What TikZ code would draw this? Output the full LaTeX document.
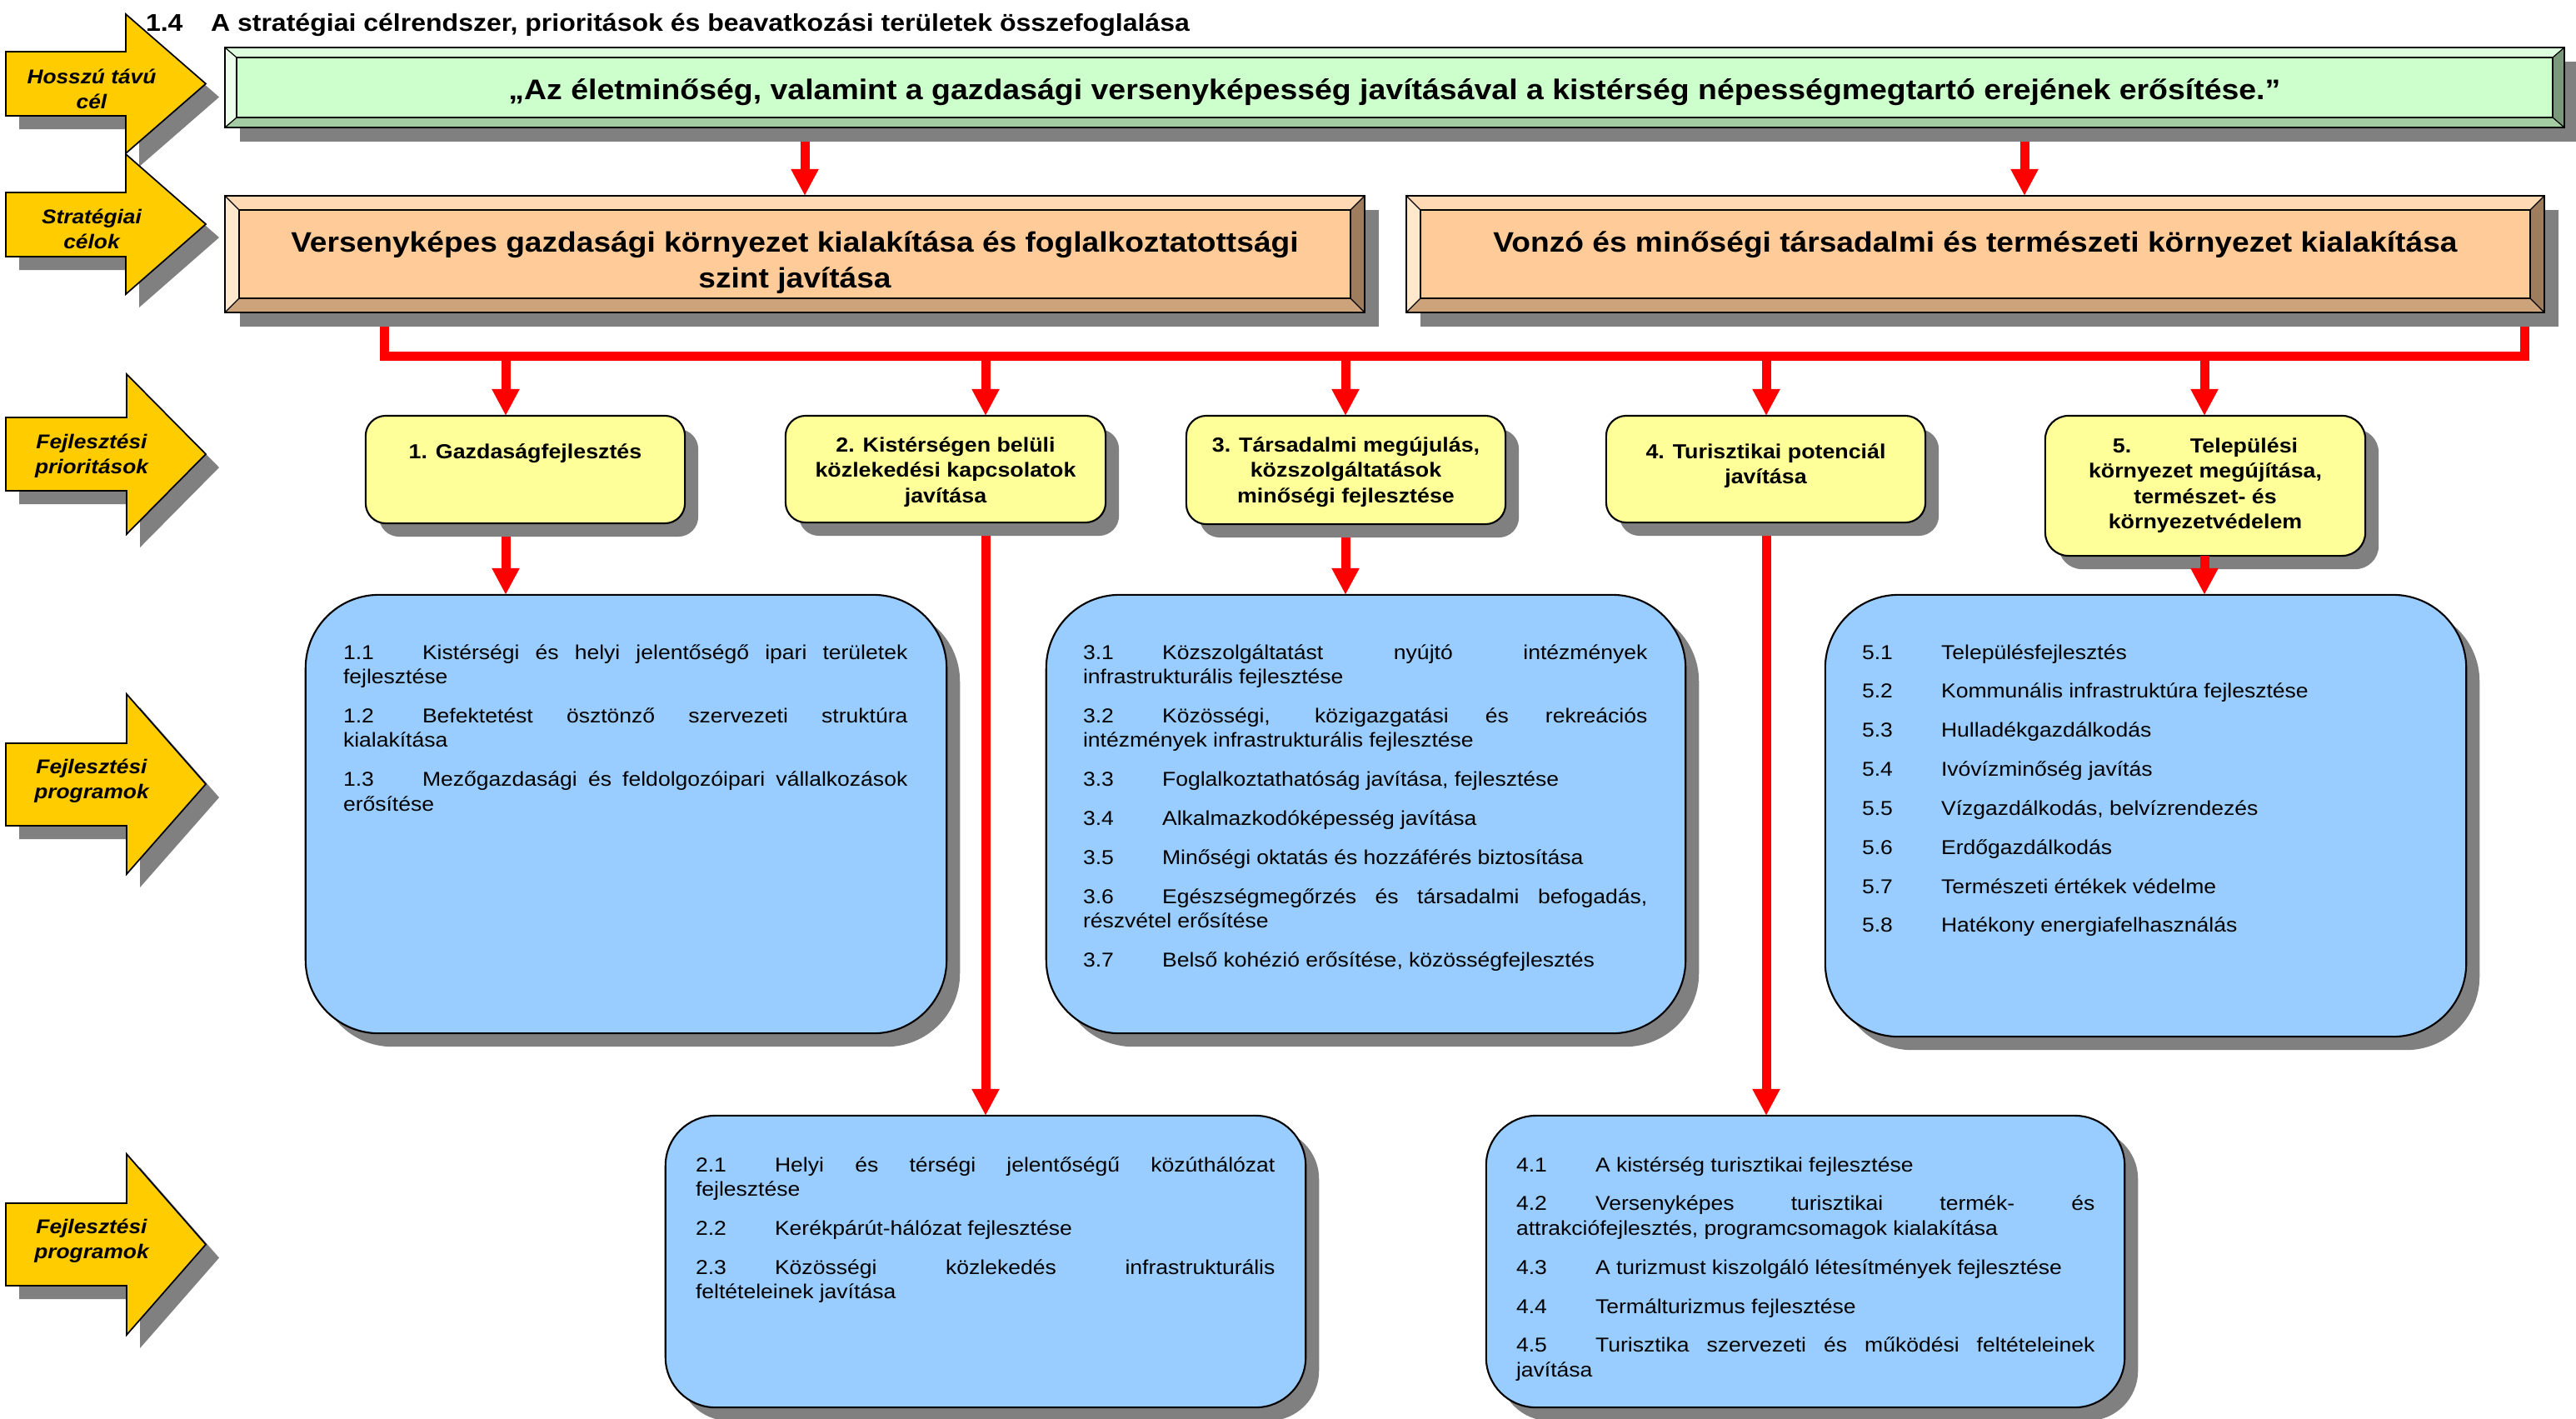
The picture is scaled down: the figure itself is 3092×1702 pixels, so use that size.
\documentclass[tikz,border=0pt]{standalone}
\usepackage{fontspec}
\setmainfont{Liberation Sans}[FakeStretch=1.1]
\usetikzlibrary{arrows.meta,shadows}

\definecolor{shadowc}{HTML}{808080}
\definecolor{yarrowc}{HTML}{FFCC00}
\definecolor{gmain}{HTML}{CCFFCC}
\definecolor{gtop}{HTML}{DDFFDD}
\definecolor{glft}{HTML}{EBFFEB}
\definecolor{gbot}{HTML}{A3CCA3}
\definecolor{grgt}{HTML}{7A997A}
\definecolor{omain}{HTML}{FFCC99}
\definecolor{otop}{HTML}{FFD9B3}
\definecolor{olft}{HTML}{FFE8CC}
\definecolor{obot}{HTML}{CCA37A}
\definecolor{orgt}{HTML}{9E7C5E}
\definecolor{prioc}{HTML}{FFFF99}
\definecolor{progc}{HTML}{99CCFF}
\definecolor{redc}{HTML}{FF0000}

\pgfdeclarelayer{paper}
\pgfdeclarelayer{conn}
\pgfdeclarelayer{shad}
\pgfsetlayers{paper,conn,shad,main}

\newcommand\mystrut{\rule{0pt}{0.3cm}}
\newcommand\mystrutB{\rule{0pt}{0.4cm}}
\newcommand\itm[1]{\makebox[0.95cm][l]{#1}}
\newcommand\fTitle{\fontsize{8.28pt}{9.6pt}\selectfont\bfseries}
\newcommand\fGoal{\fontsize{9.68pt}{11pt}\selectfont\bfseries}
\newcommand\fStrat{\fontsize{9.6pt}{0.43cm}\selectfont\bfseries}
\newcommand\fPrio{\fontsize{6.93pt}{0.305cm}\selectfont\bfseries}
\newcommand\fArrow{\fontsize{6.8pt}{0.30cm}\selectfont\bfseries\itshape}
\newcommand\fProgSet{\setlength\parindent{0pt}\spaceskip=0.3em plus 3em minus 0.05em\relax\tolerance=10000\hyphenpenalty=10000\exhyphenpenalty=10000\relax}
\newcommand\fProg{\fontsize{6.86pt}{0.295cm}\selectfont\setlength\parskip{0.173cm}\fProgSet}

\newcommand\yarrowshape[5]{(7,#1) -- (#5,#1) -- (#5,#3) -- (247,{(#3+#4)/2}) -- (#5,#4) -- (#5,#2) -- (7,#2) -- cycle}

% x0,y0,x1,y1,dx,dy,prefix
\newcommand\bevel[7]{%
 \fill[#7top] (#1,#2) -- (#3,#2) -- ({#3-#5},{#2+#6}) -- ({#1+#5},{#2+#6}) -- cycle;
 \fill[#7bot] (#1,#4) -- (#3,#4) -- ({#3-#5},{#4-#6}) -- ({#1+#5},{#4-#6}) -- cycle;
 \fill[#7lft] (#1,#2) -- ({#1+#5},{#2+#6}) -- ({#1+#5},{#4-#6}) -- (#1,#4) -- cycle;
 \fill[#7rgt] (#3,#2) -- ({#3-#5},{#2+#6}) -- ({#3-#5},{#4-#6}) -- (#3,#4) -- cycle;
 \draw[thinedge] (#1,#2) -- ({#1+#5},{#2+#6}) (#3,#2) -- ({#3-#5},{#2+#6})
   (#1,#4) -- ({#1+#5},{#4-#6}) (#3,#4) -- ({#3-#5},{#4-#6});
 \draw[edge] ({#1+#5},{#2+#6}) rectangle ({#3-#5},{#4-#6});
 \draw[edge] (#1,#2) rectangle (#3,#4);
}

\tikzset{
 edge/.style={draw=black,line width=0.6pt},
 thinedge/.style={draw=black,line width=0.35pt},
 redline/.style={draw=redc,line width=0.11cm,line join=miter},
 redarr/.style={redline,-{Triangle[width=0.31cm,length=0.32cm]}},
 shadowstyle/.style={drop shadow={shadow xshift=0.16cm,shadow yshift=-0.16cm,opacity=1,fill=shadowc}},
 bevelnode/.style={rectangle,inner sep=0pt,outer sep=0pt,draw=none},
 priobox/.style={rectangle,rounded corners=0.24cm,draw=black,line width=0.6pt,fill=prioc,inner sep=0pt,outer sep=0pt,shadowstyle},
 progbox/.style={rectangle,rounded corners=0.88cm,draw=black,line width=0.6pt,fill=progc,inner sep=0pt,outer sep=0pt,shadowstyle},
 lbl/.style={inner sep=0pt,outer sep=0pt},
 prioText/.style={lbl,anchor=north,align=center,font=\fPrio},
 arrText/.style={lbl,anchor=north,align=center,font=\fArrow},
 progText/.style={lbl,anchor=north west,text width=6.77cm,align=justify,font=\fProg},
 yarrow/.style={fill=yarrowc,draw=black,line width=0.5pt,line join=miter},
}

\begin{document}
\begin{tikzpicture}[x=0.01cm,y=-0.01cm]
\begin{pgfonlayer}{paper}
\fill[white] (0,0) rectangle (3092,1702);
\end{pgfonlayer}
\useasboundingbox (0,0) rectangle (3092,1702);

% title
\node[lbl,anchor=base west,font=\fTitle] (title) at (175,37) {\makebox[0.78cm][l]{1.4}A stratégiai célrendszer, prioritások és beavatkozási területek összefoglalása};

% left yellow arrows
\fill[shadowc,xshift=0.16cm,yshift=-0.16cm] \yarrowshape{62}{139}{17}{184}{151};
\fill[shadowc,xshift=0.16cm,yshift=-0.16cm] \yarrowshape{231}{308}{185}{353}{151};
\fill[shadowc,xshift=0.16cm,yshift=-0.16cm] \yarrowshape{501}{589}{449}{641}{152};
\fill[shadowc,xshift=0.16cm,yshift=-0.16cm] \yarrowshape{892}{991}{833}{1049}{152};
\fill[shadowc,xshift=0.16cm,yshift=-0.16cm] \yarrowshape{1444}{1543}{1385}{1602}{152};
\draw[yarrow] \yarrowshape{62}{139}{17}{184}{151};
\draw[yarrow] \yarrowshape{231}{308}{185}{353}{151};
\draw[yarrow] \yarrowshape{501}{589}{449}{641}{152};
\draw[yarrow] \yarrowshape{892}{991}{833}{1049}{152};
\draw[yarrow] \yarrowshape{1444}{1543}{1385}{1602}{152};
\node[arrText] (a1) at (110,70) {\mystrut Hosszú távú\\cél};
\node[arrText] (a2) at (110,238) {\mystrut Stratégiai\\célok};
\node[arrText] (a3) at (110,508) {\mystrut Fejlesztési\\prioritások};
\node[arrText] (a4) at (110,898) {\mystrut Fejlesztési\\programok};
\node[arrText] (a5) at (110,1450) {\mystrut Fejlesztési\\programok};

% long-term goal
\node[bevelnode,fill=gmain,minimum width=28.08cm,minimum height=0.96cm] (goal) at (1674,105) {};
\begin{pgfonlayer}{shad}
\fill[shadowc] (288,74) rectangle (3094,170);
\end{pgfonlayer}
\bevel{270}{57}{3078}{153}{14}{12}{g}
\node[lbl,anchor=base,font=\fGoal] (goalt) at (1674,119) {„Az életminőség, valamint a gazdasági versenyképesség javításával a kistérség népességmegtartó erejének erősítése.”};

% strategic goals
\node[bevelnode,fill=omain,minimum width=13.68cm,minimum height=1.40cm] (s1) at (954,305) {};
\node[bevelnode,fill=omain,minimum width=13.66cm,minimum height=1.40cm] (s2) at (2371,305) {};
\begin{pgfonlayer}{shad}
\fill[shadowc] (288,252) rectangle (1655,392);
\fill[shadowc] (1705,252) rectangle (3071,392);
\end{pgfonlayer}
\bevel{270}{235}{1638}{375}{17}{17}{o}
\bevel{1688}{235}{3054}{375}{17}{17}{o}
\node[lbl,anchor=north,align=center,font=\fStrat] (s1t) at (954,262) {\mystrutB Versenyképes gazdasági környezet kialakítása és foglalkoztatottsági\\szint javítása};
\node[lbl,anchor=base,font=\fStrat] (s2t) at (2371,302) {Vonzó és minőségi társadalmi és természeti környezet kialakítása};

% priorities
\node[priobox,minimum width=3.83cm,minimum height=1.29cm] (p1) at (630.5,563.5) {};
\node[priobox,minimum width=3.84cm,minimum height=1.28cm] (p2) at (1135,563) {};
\node[priobox,minimum width=3.83cm,minimum height=1.30cm] (p3) at (1615.5,564) {};
\node[priobox,minimum width=3.83cm,minimum height=1.28cm] (p4) at (2119.5,563) {};
\node[priobox,rounded corners=0.28cm,minimum width=3.84cm,minimum height=1.68cm] (p5) at (2647,583) {};
\node[prioText] (p1t) at (630.5,520) {\mystrut 1. Gazdaságfejlesztés};
\node[prioText] (p2t) at (1135,512) {\mystrut 2. Kistérségen belüli\\közlekedési kapcsolatok\\javítása};
\node[prioText] (p3t) at (1615.5,512) {\mystrut 3. Társadalmi megújulás,\\közszolgáltatások\\minőségi fejlesztése};
\node[prioText] (p4t) at (2119.5,520) {\mystrut 4. Turisztikai potenciál\\javítása};
\node[prioText] (p5t) at (2647,513) {\mystrut\hbox to 2.22cm{5.\hfill Települési}\\környezet megújítása,\\természet- és\\környezetvédelem};

% programmes
\node[progbox,minimum width=7.69cm,minimum height=5.26cm] (g1) at (751.5,977) {};
\node[progbox,minimum width=7.67cm,minimum height=5.26cm] (g3) at (1639.5,977) {};
\node[progbox,minimum width=7.69cm,minimum height=5.30cm] (g5) at (2575.5,979) {};
\node[progbox,rounded corners=0.6cm,minimum width=7.68cm,minimum height=3.50cm] (g2) at (1183,1514) {};
\node[progbox,rounded corners=0.6cm,minimum width=7.66cm,minimum height=3.50cm] (g4) at (2167,1514) {};

\node[progText] (g1t) at (412,761) {\mystrut\itm{1.1}Kistérségi és helyi jelentőségő ipari területek\linebreak fejlesztése\par
\itm{1.2}Befektetést ösztönző szervezeti struktúra\linebreak kialakítása\par
\itm{1.3}Mezőgazdasági és feldolgozóipari vállalkozások\linebreak erősítése};

\node[progText] (g3t) at (1300,761) {\mystrut\itm{3.1}Közszolgáltatást nyújtó intézmények\linebreak infrastrukturális fejlesztése\par
\itm{3.2}Közösségi, közigazgatási és rekreációs\linebreak intézmények infrastrukturális fejlesztése\par
\itm{3.3}Foglalkoztathatóság javítása, fejlesztése\par
\itm{3.4}Alkalmazkodóképesség javítása\par
\itm{3.5}Minőségi oktatás és hozzáférés biztosítása\par
\itm{3.6}Egészségmegőrzés és társadalmi befogadás,\linebreak részvétel erősítése\par
\itm{3.7}Belső kohézió erősítése, közösségfejlesztés};

\node[progText] (g5t) at (2235,761) {\mystrut\itm{5.1}Településfejlesztés\par
\itm{5.2}Kommunális infrastruktúra fejlesztése\par
\itm{5.3}Hulladékgazdálkodás\par
\itm{5.4}Ivóvízminőség javítás\par
\itm{5.5}Vízgazdálkodás, belvízrendezés\par
\itm{5.6}Erdőgazdálkodás\par
\itm{5.7}Természeti értékek védelme\par
\itm{5.8}Hatékony energiafelhasználás};

\node[progText,text width=6.95cm] (g2t) at (835,1376) {\mystrut\itm{2.1}Helyi és térségi jelentőségű közúthálózat\linebreak fejlesztése\par
\itm{2.2}Kerékpárút-hálózat fejlesztése\par
\itm{2.3}Közösségi közlekedés infrastrukturális\linebreak feltételeinek javítása};

\node[progText,text width=6.94cm] (g4t) at (1820,1376) {\mystrut\itm{4.1}A kistérség turisztikai fejlesztése\par
\itm{4.2}Versenyképes turisztikai termék- és\linebreak attrakciófejlesztés, programcsomagok kialakítása\par
\itm{4.3}A turizmust kiszolgáló létesítmények fejlesztése\par
\itm{4.4}Termálturizmus fejlesztése\par
\itm{4.5}Turisztika szervezeti és működési feltételeinek\linebreak javítása};

% connectors
\coordinate (xa) at (966,0);
\coordinate (xb) at (2430,0);
\coordinate (busL) at (461,427);
\coordinate (busR) at (3030,427);
\coordinate (c1) at (607,0);
\coordinate (c2) at (1183,0);
\coordinate (c3) at (1615,0);
\coordinate (c4) at (2120,0);
\coordinate (c5) at (2646,0);
\begin{pgfonlayer}{conn}
\draw[redarr] (goal.south -| xa) -- (s1.north -| xa);
\draw[redarr] (goal.south -| xb) -- (s2.north -| xb);
\draw[redline] (s1.south -| busL) -- (busL) -- (busR) -- (s2.south -| busR);
\draw[redarr] (busL -| c1) -- (p1.north -| c1);
\draw[redarr] (busL -| c2) -- (p2.north -| c2);
\draw[redarr] (busL -| c3) -- (p3.north -| c3);
\draw[redarr] (busL -| c4) -- (p4.north -| c4);
\draw[redarr] (busL -| c5) -- (p5.north -| c5);
\draw[redarr] (p1.south -| c1) -- (g1.north -| c1);
\draw[redarr] (p2.south -| c2) -- (g2.north -| c2);
\draw[redarr] (p3.south -| c3) -- (g3.north -| c3);
\draw[redarr] (p4.south -| c4) -- (g4.north -| c4);
\end{pgfonlayer}
\draw[redarr] (p5.south -| c5) -- (g5.north -| c5);
\end{tikzpicture}
\end{document}
